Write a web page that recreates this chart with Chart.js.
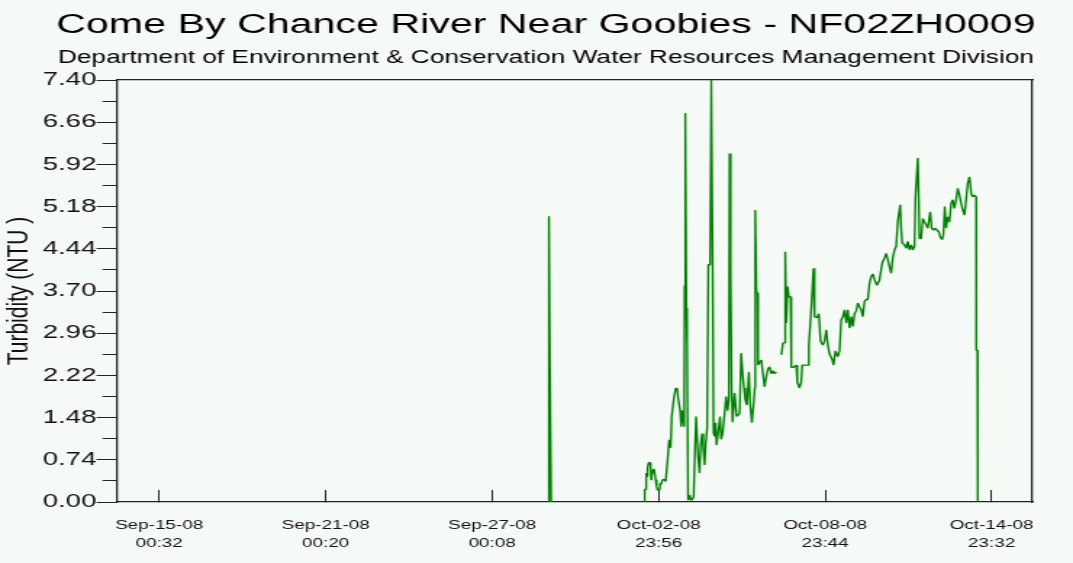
<!DOCTYPE html>
<html>
<head>
<meta charset="utf-8">
<title>Come By Chance River Near Goobies - NF02ZH0009</title>
<script src="https://cdn.jsdelivr.net/npm/chart.js@4.4.1/dist/chart.umd.min.js"></script>
<style>
  html, body { margin: 0; padding: 0; background: #f6faf7; overflow: hidden; }
  /* the chart is laid out narrow and stretched sideways */
  #wrap { position: absolute; left: 0; top: 0; width: 740px; height: 563px;
          transform: scaleX(1.45); transform-origin: 0 0; }
</style>
</head>
<body>
<div id="wrap"><canvas id="turbidity-chart"></canvas></div>
<script>
var FONT = "'Liberation Sans', Arial, sans-serif";

// hours after Oct-02-08 00:00, null breaks the trace
var hours = [
  -71.0, -70.8, -70.0, -69.2, -68.9, -20.0,
  11.4, 11.9, 12.7, 13.2, 14.0, 14.4, 15.3, 16.6, 17.0, 17.5,
  17.9, 19.2, 20.1, 21.4, 22.2, 23.1, 24.8, 25.2, 25.7, 27.4,
  29.1, 30.0, 31.7, 33.0, 34.3, 35.2, 37.3, 38.6, 39.9, 40.8,
  42.5, 43.4, 44.7, 46.0, 46.4, 46.8, 47.2, 47.9, 48.5, 49.4,
  50.7, 52.0, 53.3, 54.2, 55.4, 56.3, 58.0, 59.3, 60.2, 61.5,
  62.4, 63.6, 64.5, 65.8, 66.8, 68.4, 69.4, 70.6, 71.4, 72.3,
  73.1, 74.0, 75.3, 77.0, 77.9, 79.2, 80.9, 82.2, 83.5, 84.6,
  85.2, 86.1, 87.0, 87.8, 89.5, 91.3, 93.9, 95.2, 96.7, 97.7,
  98.8, 100.2, 101.9, 103.1, 104.5, 105.9, 107.0, 107.4, 108.4, 109.4,
  109.8, 111.1, 112.6, 114.0, 115.4, 116.9, 118.3, 119.8, 121.2, 122.6,
  124.1, 125.5, 127.5,
  129.9, 131.4, 132.7, 133.3, 134.2, 135.3, 136.4, 137.9, 138.5, 139.9,
  142.8, 143.7, 145.6, 147.1, 148.0, 152.8, 153.7, 155.7, 157.7, 158.6,
  160.6, 162.3, 163.8, 165.8, 167.2, 168.7, 170.1, 171.5, 173.9, 175.0,
  176.7, 178.7, 180.2, 181.6, 183.0, 184.5, 186.0, 187.3, 188.8, 190.3,
  191.7, 193.1, 194.6, 196.0, 197.4, 198.9, 200.3, 201.8, 203.2, 204.6,
  206.1, 207.5, 208.9, 210.4, 212.4, 214.7, 217.0, 219.0, 220.5, 221.9,
  223.3, 224.8, 226.2, 227.7, 229.1, 230.5, 232.6, 233.4, 234.3, 236.3,
  237.8, 239.1, 240.6, 242.1, 243.4, 244.9, 245.8, 247.8, 248.6, 249.2,
  250.7, 252.1, 253.5, 255.0, 256.4, 258.5, 259.8, 261.3, 263.0, 264.2,
  265.9, 267.1, 268.8, 269.9, 271.1, 272.3, 273.7, 275.1, 276.6, 278.0,
  279.4, 280.9, 282.3, 283.8, 285.2, 286.6, 288.1, 289.5, 290.9, 292.4,
  293.9, 295.2, 296.7, 298.2, 298.3, 299.3, 299.6
];

// turbidity, NTU
var turbidity = [
  0, 5.01, 2.45, 2.45, 0, null,
  0, 0.22, 0.22, 0.51, 0.45, 0.60, 0.69, 0.69, 0.62, 0.39,
  0.45, 0.57, 0.57, 0.39, 0.27, 0.21, 0.21, 0.33, 0.30, 0.39,
  0.39, 0.36, 0.74, 1.09, 0.95, 1.50, 1.85, 1.99, 1.99, 1.81,
  1.61, 1.32, 1.60, 1.32, 3.80, 3.40, 6.82, 3.40, 2.79, 0.03,
  0.12, 0.03, 0.05, 0.10, 0.97, 1.50, 0.79, 0.51, 1.00, 1.20,
  0.95, 0.65, 1.00, 1.30, 4.16, 4.16, 7.40, 4.19, 1.21, 1.15,
  1.39, 1.00, 1.21, 1.50, 1.10, 1.20, 1.55, 1.85, 1.60, 1.80,
  6.11, 4.01, 1.91, 1.40, 1.91, 1.50, 1.55, 2.61, 2.20, 2.00,
  1.79, 1.70, 2.28, 1.70, 1.39, 1.70, 2.00, 5.12, 3.69, 3.66,
  2.40, 2.45, 2.49, 2.25, 2.02, 2.20, 2.33, 2.37, 2.25, 2.30,
  2.25, 2.28, null,
  2.58, 2.79, 2.79, 4.39, 3.14, 3.78, 3.60, 3.60, 2.36, 2.36,
  2.40, 2.10, 2.00, 2.10, 2.40, 2.40, 2.75, 3.37, 4.10, 3.25,
  3.23, 3.30, 2.82, 2.75, 2.82, 3.02, 2.75, 2.60, 2.50, 2.40,
  2.65, 2.55, 2.65, 3.19, 3.25, 3.37, 3.14, 3.37, 3.05, 3.25,
  3.08, 3.30, 3.35, 3.49, 3.43, 3.37, 3.25, 3.52, 3.55, 3.55,
  3.84, 3.95, 4.00, 3.90, 3.80, 3.89, 4.19, 4.28, 4.36, 4.25,
  4.13, 4.01, 4.28, 4.42, 4.48, 4.92, 5.21, 4.80, 4.54, 4.51,
  4.45, 4.57, 4.42, 4.51, 4.42, 4.48, 5.35, 6.03, 5.35, 4.62,
  4.62, 4.97, 4.91, 4.86, 4.80, 5.09, 4.80, 4.77, 4.80, 4.77,
  4.74, 4.65, 4.60, 4.68, 5.18, 4.80, 5.00, 4.91, 5.24, 5.30,
  5.15, 5.30, 5.50, 5.38, 5.24, 5.12, 5.03, 5.30, 5.59, 5.70,
  5.41, 5.35, 5.38, 5.35, 2.66, 2.66, 0
];

var yTicks = [0.00, 0.74, 1.48, 2.22, 2.96, 3.70, 4.44, 5.18, 5.92, 6.66, 7.40];

var tickDates = ['Sep-15-08', 'Sep-21-08', 'Sep-27-08', 'Oct-02-08', 'Oct-08-08', 'Oct-14-08'];
var tickTimes = ['00:32', '00:20', '00:08', '23:56', '23:44', '23:32'];

var MONTHS = {Sep: 8, Oct: 9};
var HOUR = 3600000;

function stamp(date, time) {
  var d = date.split('-'), t = time.split(':');
  return Date.UTC(2000 + (+d[2]), MONTHS[d[0]], +d[1], +t[0], +t[1]);
}

var base = stamp('Oct-02-08', '00:00');
var xMin = stamp('Sep-13-08', '12:30');
var xMax = stamp('Oct-16-08', '10:48');
var tickStamps = tickDates.map(function (d, i) { return stamp(d, tickTimes[i]); });

var points = hours.map(function (h, i) {
  return {x: base + h * HOUR, y: turbidity[i]};
});

var AXIS = '#222';

var ctx = document.getElementById('turbidity-chart').getContext('2d');
var turbidityChart = new Chart(ctx, {
  type: 'line',
  data: {
    datasets: [{
      label: 'Turbidity (NTU )',
      data: points,
      xAxisID: 'x',
      yAxisID: 'y',
      borderColor: '#008000',
      borderWidth: 1.4,
      borderJoinStyle: 'bevel',
      pointRadius: 0,
      tension: 0,
      spanGaps: false
    }]
  },
  options: {
    responsive: true,
    maintainAspectRatio: false,
    animation: false,
    events: [],
    layout: { padding: { left: 13, right: 0, top: 0, bottom: 0 } },
    plugins: {
      legend: { display: false },
      tooltip: { enabled: false },
      title: {
        display: true,
        text: 'Come By Chance River Near Goobies - NF02ZH0009',
        color: '#000',
        font: { family: FONT, size: 28.4, weight: 'normal', lineHeight: 1.2 },
        padding: { top: 8, bottom: 0 }
      },
      subtitle: {
        display: true,
        text: 'Department of Environment & Conservation Water Resources Management Division',
        color: '#000',
        font: { family: FONT, size: 18.1, weight: 'normal', lineHeight: 1.2 },
        padding: { top: 5, bottom: 11.2 }
      }
    },
    scales: {
      x: {
        type: 'linear',
        position: 'bottom',
        min: xMin,
        max: xMax,
        afterBuildTicks: function (scale) {
          scale.ticks = tickStamps.map(function (v) { return {value: v}; });
        },
        afterFit: function (scale) { scale.height = 61; },
        ticks: {
          autoSkip: false,
          maxRotation: 0,
          minRotation: 0,
          padding: 26,
          color: '#111',
          font: { family: FONT, size: 13, lineHeight: 1.42 },
          callback: function (v, i) { return [tickDates[i], tickTimes[i]]; }
        },
        grid: { drawOnChartArea: false, tickLength: -12, color: AXIS, lineWidth: 1 },
        border: { color: AXIS, width: 1.3 }
      },
      xTop: {
        type: 'linear',
        position: 'top',
        min: 0,
        max: 1,
        afterFit: function (scale) { scale.height = 0; },
        ticks: { display: false },
        grid: { drawOnChartArea: false, drawTicks: false },
        border: { color: AXIS, width: 1.3 }
      },
      y: {
        position: 'left',
        weight: 1,
        min: 0,
        max: 7.4,
        afterBuildTicks: function (scale) {
          scale.ticks = yTicks.map(function (v) { return {value: v}; });
        },
        afterFit: function (scale) { scale.width = 68; },
        ticks: {
          autoSkip: false,
          padding: 0,
          color: '#111',
          font: { family: FONT, size: 19 },
          callback: function (v) { return v.toFixed(2); }
        },
        grid: { drawOnChartArea: false, tickLength: 14.5, color: AXIS, lineWidth: 1 },
        border: { color: AXIS, width: 1.3 },
        title: {
          display: true,
          text: 'Turbidity (NTU )',
          color: '#111',
          font: { family: FONT, size: 21, lineHeight: 1.2 },
          padding: { top: -12.6, bottom: 0 }
        }
      },
      yMinor: {
        position: 'left',
        weight: 0,
        min: 0,
        max: 7.4,
        afterBuildTicks: function (scale) {
          scale.ticks = yTicks.slice(1).map(function (v, i) {
            return {value: (v + yTicks[i]) / 2};
          });
        },
        afterFit: function (scale) { scale.width = 0; },
        ticks: { display: false },
        grid: { drawOnChartArea: false, tickLength: 10.3, color: AXIS, lineWidth: 1 },
        border: { display: false }
      },
      yRight: {
        position: 'right',
        min: 0,
        max: 1,
        afterFit: function (scale) { scale.width = 27.6; },
        ticks: { display: false },
        grid: { drawOnChartArea: false, drawTicks: false },
        border: { color: AXIS, width: 1.3 }
      }
    }
  }
});
</script>
</body>
</html>
